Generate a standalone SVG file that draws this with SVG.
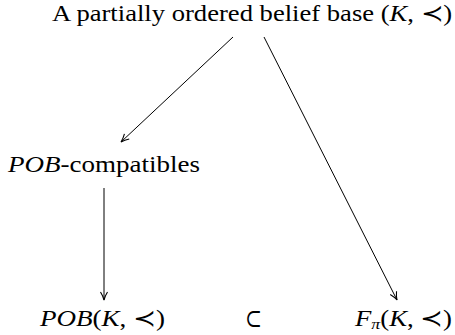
<svg xmlns="http://www.w3.org/2000/svg" width="455" height="335" viewBox="0 0 455 335">
<style>
text{font-family:"Liberation Serif","DejaVu Serif",serif;font-size:22.5px;fill:#000}
.i{font-style:italic}
.c{stroke:#000;stroke-width:1;fill:none}
</style>
<defs>
<marker id="ah" viewBox="0 0 10 10" refX="9" refY="5" markerWidth="10" markerHeight="10" markerUnits="userSpaceOnUse" orient="auto">
<path d="M1,1.5 Q5,4 9,5 Q5,6 1,8.5" fill="none" stroke="#000" stroke-width="1.1"/>
</marker>
</defs>
<rect width="455" height="335" fill="#fff"/>
<g id="connectors">
<line class="c" x1="233" y1="37" x2="121" y2="142" marker-end="url(#ah)"/>
<line class="c" x1="264" y1="37" x2="397" y2="300" marker-end="url(#ah)"/>
<line class="c" x1="104" y1="188" x2="104" y2="300" marker-end="url(#ah)"/>
</g>
<g id="root">
<text x="52" y="21" textLength="400" lengthAdjust="spacingAndGlyphs">A partially ordered belief base (<tspan class="i">K</tspan>, ≺)</text>
</g>
<g id="compatibles">
<text x="8" y="172" textLength="192" lengthAdjust="spacingAndGlyphs"><tspan class="i">POB</tspan>-compatibles</text>
</g>
<g id="pob">
<text x="40" y="326" textLength="125" lengthAdjust="spacingAndGlyphs"><tspan class="i">POB</tspan>(<tspan class="i">K</tspan>, ≺)</text>
</g>
<g id="subset">
<text x="245" y="327" style="font-family:'DejaVu Serif',serif;font-size:26px" textLength="17" lengthAdjust="spacingAndGlyphs">⊂</text>
</g>
<g id="fpi">
<text x="355" y="326" textLength="97" lengthAdjust="spacingAndGlyphs"><tspan class="i">F</tspan><tspan class="i" font-size="15" dy="3">π</tspan><tspan dy="-3">(</tspan><tspan class="i">K</tspan>, ≺)</text>
</g>
</svg>
